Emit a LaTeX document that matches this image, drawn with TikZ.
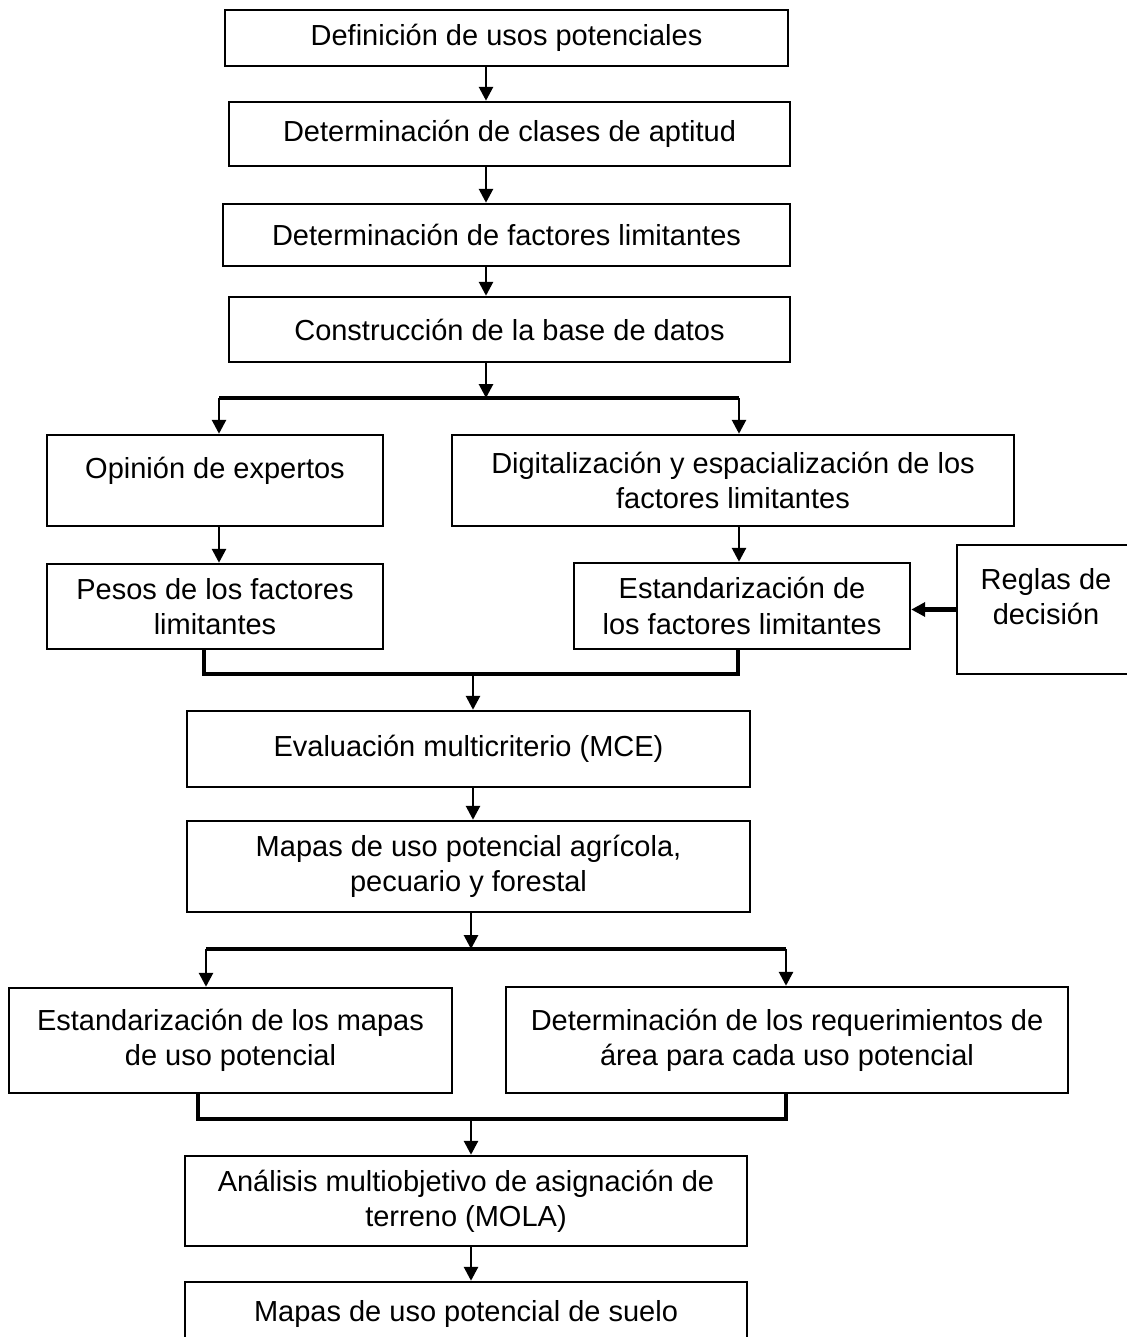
\documentclass[tikz,border=0pt]{standalone}
\usepackage{fontspec}
\setmainfont{Liberation Sans}
\usetikzlibrary{arrows.meta}

\begin{document}
\begin{tikzpicture}[
    >={Triangle[length=0.28cm, width=0.28cm]},
    caja/.style={draw, rectangle, line width=1.4pt, align=center,
                 inner sep=0pt, font=\fontsize{16.5}{20}\selectfont},
    flecha/.style={->, line width=1.6pt},
    linea/.style={line width=2pt}
]

    % marco
    \useasboundingbox (0, 0) rectangle (22.52, -26.74);

    % etapas iniciales
    \node[caja, minimum width=11.26cm, minimum height=1.12cm] (def) at (10.13, -0.76)
        {Definición de usos potenciales};
    \node[caja, minimum width=11.22cm, minimum height=1.28cm] (apt) at (10.19, -2.68)
        {Determinación de clases de aptitud};
    \node[caja, minimum width=11.34cm, minimum height=1.24cm] (fac) at (10.13, -4.70)
        {Determinación de factores limitantes};
    \node[caja, minimum width=11.22cm, minimum height=1.30cm] (bd) at (10.19, -6.59)
        {Construcción de la base de datos};

    % dos ramas
    \node[caja, minimum width=6.72cm, minimum height=1.82cm, text depth=0.50cm] (exp) at (4.30, -9.61)
        {Opinión de expertos};
    \node[caja, minimum width=11.24cm, minimum height=1.82cm] (dig) at (14.66, -9.61)
        {Digitalización y espacialización de los\\factores limitantes};
    \node[caja, minimum width=6.72cm, minimum height=1.70cm] (pes) at (4.30, -12.13)
        {Pesos de los factores\\limitantes};
    \node[caja, minimum width=6.72cm, minimum height=1.72cm] (est) at (14.84, -12.12)
        {Estandarización de\\los factores limitantes};
    \node[caja, minimum width=3.56cm, minimum height=2.58cm, text depth=0.52cm] (reg) at (20.92, -12.19)
        {Reglas de\\decisión};

    % evaluación
    \node[caja, minimum width=11.26cm, minimum height=1.52cm] (mce) at (9.37, -14.98)
        {Evaluación multicriterio (MCE)};
    \node[caja, minimum width=11.26cm, minimum height=1.82cm] (map) at (9.37, -17.33)
        {Mapas de uso potencial agrícola,\\pecuario y forestal};

    % mapas y requerimientos
    \node[caja, minimum width=8.86cm, minimum height=2.10cm] (emp) at (4.61, -20.81)
        {Estandarización de los mapas\\de uso potencial};
    \node[caja, minimum width=11.24cm, minimum height=2.12cm] (req) at (15.74, -20.80)
        {Determinación de los requerimientos de\\área para cada uso potencial};

    % asignación
    \node[caja, minimum width=11.24cm, minimum height=1.80cm] (mola) at (9.32, -24.02)
        {Análisis multiobjetivo de asignación de\\terreno (MOLA)};
    \node[caja, minimum width=11.24cm, minimum height=1.26cm] (suelo) at (9.32, -26.27)
        {Mapas de uso potencial de suelo};

    % puntos de las barras
    \coordinate (t1) at (9.72, -7.96);
    \coordinate (b1l) at (4.38, -7.96);
    \coordinate (b1r) at (14.78, -7.96);
    \coordinate (t2) at (9.46, -13.48);
    \coordinate (b2l) at (4.08, -13.48);
    \coordinate (b2r) at (14.76, -13.48);
    \coordinate (t3) at (9.42, -18.98);
    \coordinate (b3l) at (4.12, -18.98);
    \coordinate (b3r) at (15.72, -18.98);
    \coordinate (t4) at (9.42, -22.38);
    \coordinate (b4l) at (3.96, -22.38);
    \coordinate (b4r) at (15.72, -22.38);

    % flechas
    \draw[flecha] (def.south -| t1) -- (apt.north -| t1);
    \draw[flecha] (apt.south -| t1) -- (fac.north -| t1);
    \draw[flecha] (fac.south -| t1) -- (bd.north -| t1);
    \draw[flecha] (bd.south -| t1) -- (t1);
    \draw[linea] (b1l) -- (b1r);
    \draw[flecha] (b1l) -- (exp.north -| b1l);
    \draw[flecha] (b1r) -- (dig.north -| b1r);
    \draw[flecha] (exp.south -| b1l) -- (pes.north -| b1l);
    \draw[flecha] (dig.south -| b1r) -- (est.north -| b1r);
    \draw[flecha, line width=2.6pt] (reg.west) -- (est.east |- reg.west);

    \draw[linea] (pes.south -| b2l) -- (b2l) -- (b2r) -- (est.south -| b2r);
    \draw[flecha] (t2) -- (mce.north -| t2);
    \draw[flecha] (mce.south -| t2) -- (map.north -| t2);

    \draw[flecha] (map.south -| t3) -- (t3);
    \draw[linea] (b3l) -- (b3r);
    \draw[flecha] (b3l) -- (emp.north -| b3l);
    \draw[flecha] (b3r) -- (req.north -| b3r);

    \draw[linea] (emp.south -| b4l) -- (b4l) -- (b4r) -- (req.south -| b4r);
    \draw[flecha] (t4) -- (mola.north -| t4);
    \draw[flecha] (mola.south -| t4) -- (suelo.north -| t4);

\end{tikzpicture}
\end{document}
